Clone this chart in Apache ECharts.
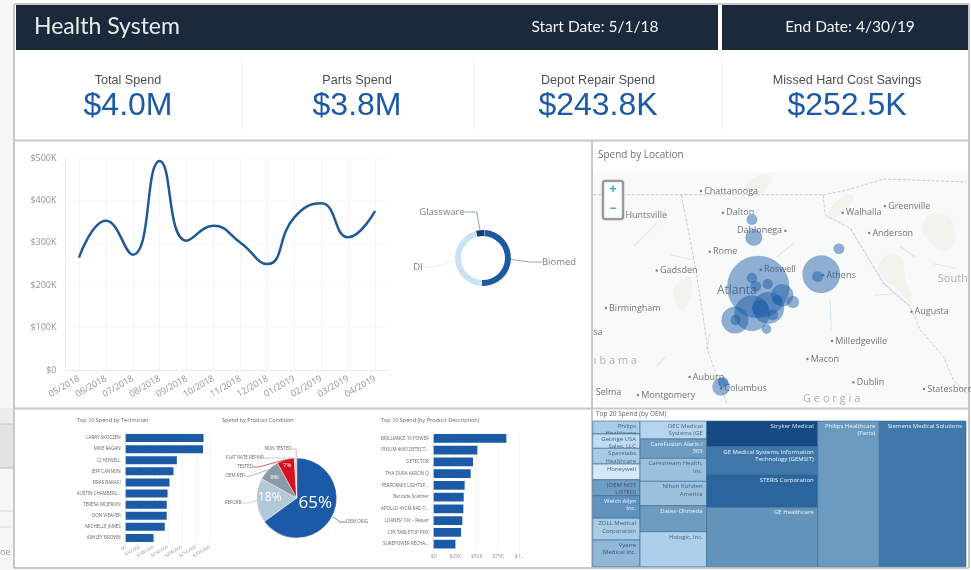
<!DOCTYPE html>
<html>
<head>
<meta charset="utf-8">
<style>
    html, body { margin: 0; padding: 0; background: #fff; }
    #chart { width: 971px; height: 570px; }
</style>
<script src="https://cdn.jsdelivr.net/npm/echarts@6/dist/echarts.min.js"></script>
</head>
<body>
<div id="chart"></div>
<script>
// 月度支出
const months = ["05/2018", "06/2018", "07/2018", "08/2018", "09/2018", "10/2018", "11/2018", "12/2018", "01/2019", "02/2019", "03/2019", "04/2019"];
const monthSpend = [265, 352, 272, 493, 305, 340, 300, 250, 360, 393, 313, 375];

// 环形图
const deptNames = ["Biomed", "DI", "Glassware"];
const deptShare = [50, 45, 5];

// 地图气泡 [lon, lat, spend]
const bubbles = [
    [-84.37, 33.75, 961], [-83.37, 33.92, 350], [-84.47, 34.65, 28], [-84.44, 34.41, 69],
    [-83.09, 34.26, 28], [-84.47, 33.87, 25], [-84.41, 33.76, 28], [-84.22, 33.79, 25],
    [-83.99, 33.64, 121], [-83.82, 33.55, 36], [-84.21, 33.47, 246], [-84.47, 33.40, 313],
    [-84.74, 33.31, 177], [-84.73, 33.31, 25], [-84.34, 33.47, 64], [-84.14, 33.38, 28],
    [-84.24, 33.19, 22], [-83.43, 33.89, 28], [-84.96, 32.42, 76], [-84.93, 32.48, 25],
    [-84.06, 33.58, 22]
];
// 城市 [lon, lat, name]
const cities = [
    [-85.28, 35.03, "Chattanooga"], [-84.93, 34.74, "Dalton"], [-83.03, 34.74, "Walhalla"],
    [-82.36, 34.83, "Greenville"], [-82.61, 34.47, "Anderson"], [-86.53, 34.70, "Huntsville"],
    [-85.14, 34.22, "Rome"], [-85.98, 33.97, "Gadsden"], [-84.33, 33.98, "Roswell"],
    [-83.34, 33.91, "Athens"], [-86.79, 33.47, "Birmingham"], [-81.94, 33.42, "Augusta"],
    [-83.20, 33.03, "Milledgeville"], [-83.59, 32.79, "Macon"], [-85.46, 32.55, "Auburn"],
    [-84.96, 32.40, "Columbus"], [-82.86, 32.48, "Dublin"], [-81.74, 32.39, "Statesboro"],
    [-86.28, 32.31, "Montgomery"]
];
const leftCities = [[-83.94, 34.50, "Dahlonega"]];
const plainPlaces = [[-86.95, 32.35, "Selma"], [-86.99, 33.15, "sa"]];
const bigPlaces = [[-84.71, 33.70, "Atlanta"]];
const regions = [[-86.98, 32.76, "ı b a m a"], [-83.66, 32.26, "G e o r g i a"], [-81.52, 33.86, "South"]];

// 州界、河流、绿地
const borders = [
    [[-86.99, 34.98], [-85.59, 34.98], [-83.34, 34.98]],
    [[-85.59, 34.98], [-85.35, 33.93], [-85.16, 32.87], [-85.06, 32.64], [-84.87, 32.20]],
    [[-83.34, 34.98], [-83.31, 34.71]],
    [[-83.34, 34.98], [-82.97, 35.04], [-82.38, 35.19], [-81.06, 35.15]],
    [[-83.31, 34.71], [-82.91, 34.53], [-82.70, 34.24], [-82.38, 33.80], [-81.96, 33.49], [-81.80, 33.18], [-81.43, 32.82], [-81.27, 32.51], [-81.06, 32.33]]
];
const rivers = [
    [[-86.35, 34.29], [-85.98, 34.60]], [[-85.77, 34.18], [-85.40, 34.11]],
    [[-84.08, 34.15], [-83.81, 34.33]], [[-82.12, 34.29], [-81.88, 34.15]],
    [[-82.54, 33.64], [-82.17, 33.66]], [[-83.23, 33.58], [-83.21, 33.18]],
    [[-81.59, 34.06], [-81.22, 34.00]], [[-85.98, 32.69], [-85.85, 32.82]],
    [[-85.14, 33.13], [-85.19, 32.91]], [[-82.91, 34.53], [-82.70, 34.24], [-82.38, 33.80], [-81.96, 33.49]]
];
const parks = [
    [[-81.75, 34.60], [-81.49, 34.73], [-81.25, 34.51], [-81.38, 34.24], [-81.62, 34.33]],
    [[-82.44, 34.07], [-82.17, 34.18], [-82.01, 33.80], [-81.94, 33.53], [-82.15, 33.71], [-82.39, 33.89]],
    [[-84.55, 35.13], [-84.18, 35.24], [-84.34, 34.98], [-84.50, 34.98]],
    [[-85.69, 33.75], [-85.45, 33.87], [-85.51, 33.49], [-85.64, 33.49]],
    [[-83.28, 34.71], [-82.97, 34.98], [-82.86, 34.91], [-83.18, 34.66]]
];

// 技术员 Top 10
const techNames = ["LARRY SKOCZEN", "MIKE RAGAN", "CJ HOWELL", "JEFF CANNON", "FIRAS BARAKI", "AUSTIN CHAMBERL...", "TERESA MCJERKIN", "DON WEAVER", "MICHELLE JAMES", "ASHLEY BROWN"];
const techSpend = [277000, 275000, 182000, 170000, 156000, 149000, 146000, 146000, 139000, 99000];

// 产品状况
const condNames = ["OEM ORIG", "REFURB", "OEM REP", "TESTED", "FLAT RATE REPAIR", "NON TESTED"];
const condShare = [65, 18, 9, 7, 0.6, 0.4];
const condColors = ["#1b5aa6", "#b4c8d8", "#8b9ba6", "#d5121e", "#9fc4b4", "#e08a90"];
const condLabelAt = [[357, 522], [233, 503], [235, 476], [245, 467], [245, 458], [278, 449]];
const condFont = [17, 12, 6, 6, 0, 0];
const condNudge = [[-2, -5], [-4, -2], [-6, -4], [-3, -11], [0, 0], [0, 0]];

// 产品描述 Top 10
const prodNames = ["BRILLIANCE 16 POWER", "PIXIUM 4600 DETECT...", "DETECTOR", "THA DURA AKRON Q", "PERFORMIX LIGHTSP...", "Barcode Scanner", "APOLLO 4YCM RAD T...", "LOANER 10lc - Repair", "CPX TABLETOP PFIX", "SUREPOWER RECHA..."];
const prodSpend = [84500, 50800, 45700, 43000, 36000, 34900, 34500, 33300, 31800, 25200];

// OEM 矩形树图，按列排列
const oemNames = [
    "Philips\nHealthcare", "Getinge USA\nSales, LLC\n(Domestic)", "Spacelabs\nHealthcare", "Honeywell", "(OEM NOT\nLISTED)", "Welch Allyn\nInc.", "ZOLL Medical\nCorporation", "Vyaire\nMedical Inc.",
    "OEC Medical\nSystems (GE\nHealthcare)", "CareFusion Alaris /\n303", "Carestream Health,\nInc.", "Nihon Kohden\nAmerica", "Datex-Ohmeda", "Hologic, Inc.",
    "Stryker Medical", "GE Medical Systems Information\nTechnology (GEMSIT)", "STERIS Corporation", "GE Healthcare",
    "Philips Healthcare\n(Parts)", "Siemens Medical Solutions"
];
const oemColumn = [0, 0, 0, 0, 0, 0, 0, 0, 1, 1, 1, 1, 1, 1, 2, 2, 2, 2, 3, 4];
const oemSpend = [13.8, 15.3, 16.7, 16.7, 17, 24.1, 23.1, 28.4, 27, 29, 34.5, 36.5, 39, 52.5, 64.1, 70.8, 80.8, 148.2, 202, 284];
const oemColors = ["#a8cde8", "#c0dcf0", "#aacbe6", "#d4eafa", "#6f9dc4", "#5f92bd", "#a8cbe6", "#8fb7d8", "#b5d5ef", "#6d9cc3", "#9cc1df", "#9cc1df", "#6d9cc3", "#acd0ec", "#164a82", "#3f78a8", "#2a669d", "#6293bb", "#6a9ac0", "#3f78a9"];
const oemText = ["#4c5f70", "#4c5f70", "#4c5f70", "#4c5f70", "#3f5266", "#f0f5f9", "#4c5f70", "#3f5266", "#4c5f70", "#eef4f9", "#4c5f70", "#4c5f70", "#eef4f9", "#4c5f70", "#dfe8f1", "#eef4f9", "#eef4f9", "#eef4f9", "#eef4f9", "#eef4f9"];

const sans = '"Open Sans", sans-serif';
const grey = "#8f949a";
const blue = "#1b5aa6";

// 把 OEM 数据换算成每个矩形的列、行范围
const columnTotal = [];
oemSpend.forEach((v, i) => { columnTotal[oemColumn[i]] = (columnTotal[oemColumn[i]] || 0) + v; });
const oemTotal = columnTotal.reduce((a, b) => a + b, 0);
const oemRects = [];
let colStart = 0;
columnTotal.forEach((sum, c) => {
    let used = 0;
    oemSpend.forEach((v, i) => {
        if (oemColumn[i] === c) {
            oemRects.push({ value: [colStart, colStart + sum, used / sum, (used + v) / sum], idx: i });
            used += v;
        }
    });
    colStart += sum;
});

function hiddenAxis(extra) {
    return Object.assign({ type: "value", show: false, splitLine: { show: false } }, extra);
}

function pairText(x, y, text, size, color, align, family, weight) {
    return {
        type: "text", z: 5, x: x, y: y,
        style: { text: text, fontSize: size, fill: color, align: align || "center", verticalAlign: "middle", fontFamily: family || sans, fontWeight: weight || "normal" }
    };
}

function box(x, y, w, h, fill) {
    return { type: "rect", z: -1, shape: { x: x, y: y, width: w, height: h }, style: { fill: fill } };
}

const line = (x1, y1, x2, y2, color, width) => ({
    type: "line", z: 1, shape: { x1: x1, y1: y1, x2: x2, y2: y2 }, style: { stroke: color, lineWidth: width }
});

const kpiFont = '"Liberation Sans", Arial, sans-serif';
const frame = "#c6c8c9";

let option = {
    animation: false,
    backgroundColor: "#fff",
    graphic: [
        // 截图左侧露出的背景
        box(0, 0, 13, 570, "#f6f6f6"),
        box(0, 408, 13, 16, "#ececec"),
        box(0, 424, 13, 44, "#e3e3e3"),
        line(0, 424, 13, 424, "#c8c8c8", 1),
        line(0, 468, 13, 468, "#bdbdbd", 1),
        line(0, 511, 13, 511, "#d4d4d4", 1),
        line(0, 527, 13, 527, "#dcdcdc", 1),
        pairText(0, 552, "oe", 9, "#a5a5a5", "left"),
        box(593, 172, 375, 233, "#f8f9f9"),
        box(16, 5, 702, 45, "#1b2a3a"),
        box(722, 5, 246, 45, "#1b2a3a"),
        line(14, 4, 969, 4, frame, 2),
        line(14, 4, 14, 568, frame, 2),
        line(969, 4, 969, 568, frame, 2),
        line(14, 568, 969, 568, frame, 2),
        line(14, 140.5, 969, 140.5, frame, 2),
        line(14, 408.5, 969, 408.5, frame, 2),
        line(592, 141, 592, 568, frame, 2),
        line(242, 58, 242, 130, "#f0f0f0", 1),
        line(474, 58, 474, 130, "#f0f0f0", 1),
        line(722, 58, 722, 130, "#f0f0f0", 1),
        pairText(34, 27, "Health System", 23, "#e8ecef", "left", "Lato"),
        pairText(595, 27, "Start Date: 5/1/18", 15.5, "#f2f4f6", "center", "Lato"),
        pairText(850, 27, "End Date: 4/30/19", 15.5, "#f2f4f6", "center", "Lato"),
        pairText(128, 81, "Total Spend", 12.6, "#4a4f55", "center", kpiFont),
        pairText(357, 81, "Parts Spend", 12.6, "#4a4f55", "center", kpiFont),
        pairText(598, 81, "Depot Repair Spend", 12.6, "#4a4f55", "center", kpiFont),
        pairText(847, 81, "Missed Hard Cost Savings", 12.6, "#4a4f55", "center", kpiFont),
        pairText(128, 106, "$4.0M", 32, blue, "center", kpiFont),
        pairText(357, 106, "$3.8M", 32, blue, "center", kpiFont),
        pairText(598, 106, "$243.8K", 32, blue, "center", kpiFont),
        pairText(847, 106, "$252.5K", 32, blue, "center", kpiFont),
        pairText(598, 155, "Spend by Location", 10, "#6c7278", "left"),
        pairText(77, 420, "Top 10 Spend by Technician", 5.5, "#666", "left"),
        pairText(222, 420, "Spend by Product Condition", 5.5, "#666", "left"),
        pairText(381, 420, "Top 10 Spend (by Product Description)", 5.5, "#666", "left"),
        pairText(596, 414, "Top 20 Spend (by OEM)", 6.5, "#666", "left"),
        // 地图缩放按钮
        { type: "rect", z: 6, shape: { x: 603, y: 181, width: 20, height: 38, r: 2 }, style: { fill: "#fff", stroke: "#8d8f91", lineWidth: 1.5, shadowBlur: 2, shadowColor: "rgba(0,0,0,0.4)" } },
        line(604, 200, 622, 200, "#ddd", 1),
        Object.assign(pairText(613, 190, "+", 12, "#2ca0d8", "center", kpiFont, "bold"), { z: 7 }),
        Object.assign(pairText(613, 209, "−", 12, "#2ca0d8", "center", kpiFont, "bold"), { z: 7 })
    ],
    grid: [
        { left: 65.5, top: 158, width: 323, height: 212 },
        { left: 593, top: 172, width: 375, height: 233 },
        { left: 125.7, top: 432.5, width: 84.3, height: 111 },
        { left: 433.7, top: 432.5, width: 86, height: 117.5 },
        { left: 592.7, top: 421, width: 373.3, height: 145.7 }
    ],
    xAxis: [
        {
            gridIndex: 0, type: "category", data: months,
            axisLine: { lineStyle: { color: "#e6e8ea" } },
            axisTick: { show: false },
            splitLine: { show: true, interval: 0, alignWithLabel: true, lineStyle: { color: "#f1f2f3" } },
            axisLabel: { rotate: 30, interval: 0, color: grey, fontSize: 9, fontFamily: sans, margin: 8 }
        },
        hiddenAxis({ gridIndex: 1, min: -86.993, max: -81.041 }),
        {
            gridIndex: 2, type: "value", min: 0, max: 300000, interval: 50000,
            axisLine: { show: false }, axisTick: { show: false },
            splitLine: { lineStyle: { color: "#f1f2f3" } },
            axisLabel: { rotate: 30, color: grey, fontSize: 4.5, fontFamily: sans, margin: 3, formatter: v => "$" + v.toLocaleString("en-US") }
        },
        {
            gridIndex: 3, type: "value", min: 0, max: 100000, interval: 25000,
            axisLine: { show: false }, axisTick: { show: false },
            splitLine: { lineStyle: { color: "#f1f2f3" } },
            axisLabel: { color: grey, fontSize: 5, fontFamily: sans, margin: 4, formatter: v => v === 100000 ? "$1..." : "$" + v / 1000 + (v ? "K" : "") }
        },
        hiddenAxis({ gridIndex: 4, min: 0, max: oemTotal })
    ],
    yAxis: [
        {
            gridIndex: 0, type: "value", min: 0, max: 500, interval: 100,
            axisLine: { show: true, lineStyle: { color: "#eceef0" } }, axisTick: { show: false },
            splitLine: { lineStyle: { color: "#f3f4f5", type: "dotted" } },
            axisLabel: { color: grey, fontSize: 9, fontFamily: sans, margin: 9, formatter: v => "$" + v + (v ? "K" : "") }
        },
        hiddenAxis({ gridIndex: 1, min: 32.177, max: 35.283 }),
        {
            gridIndex: 2, type: "category", data: techNames, inverse: true,
            axisLine: { lineStyle: { color: "#e6e8ea" } }, axisTick: { show: false },
            axisLabel: { interval: 0, color: "#666", fontSize: 4.5, fontFamily: sans, margin: 5 }
        },
        {
            gridIndex: 3, type: "category", data: prodNames, inverse: true,
            axisLine: { lineStyle: { color: "#e6e8ea" } }, axisTick: { show: false },
            axisLabel: { interval: 0, color: "#666", fontSize: 4.5, fontFamily: sans, margin: 5 }
        },
        hiddenAxis({ gridIndex: 4, min: 0, max: 1, inverse: true })
    ],
    series: [
        {
            type: "line", name: "Spend", xAxisIndex: 0, yAxisIndex: 0, data: monthSpend,
            smooth: 0.5, showSymbol: false, lineStyle: { color: "#1f5a96", width: 2.5 }
        },
        {
            type: "pie", center: [483, 258], radius: [22, 28], startAngle: 87, padAngle: 1,
            data: deptNames.map((n, i) => ({
                name: n, value: deptShare[i],
                itemStyle: { color: ["#1b5aa0", "#c9e3f5", "#123f78"][i] },
                labelLine: { lineStyle: { color: ["#8aa5bd", "#e8edf1", "#8aa5bd"][i] } }
            })),
            label: { color: "#7b8086", fontSize: 9.5, fontFamily: sans },
            labelLine: { length: 10, length2: 12, lineStyle: { width: 1 } },
            labelLayout: p => ({ x: [559, 418, 442][p.dataIndex], y: [262, 267, 212][p.dataIndex], align: "center", verticalAlign: "middle" })
        },
        // 绿地
        {
            type: "custom", xAxisIndex: 1, yAxisIndex: 1, silent: true, clip: true, z: 1,
            data: parks.map((p, i) => [i]),
            renderItem: (params, api) => ({
                type: "polygon",
                shape: { points: parks[api.value(0)].map(pt => api.coord(pt)), smooth: 0.6 },
                style: { fill: "#f0f4ec" }
            })
        },
        ...rivers.map(r => ({
            type: "line", xAxisIndex: 1, yAxisIndex: 1, data: r, silent: true, showSymbol: false, z: 1,
            lineStyle: { color: "#dbe9f1", width: 1.2 }
        })),
        ...borders.map(b => ({
            type: "line", xAxisIndex: 1, yAxisIndex: 1, data: b, silent: true, showSymbol: false, z: 1,
            lineStyle: { color: "#bfc3c6", width: 0.8, type: "dashed" }
        })),
        {
            type: "scatter", xAxisIndex: 1, yAxisIndex: 1, data: cities, silent: true, symbolSize: 2.5, z: 2,
            itemStyle: { color: "#666" },
            label: { show: true, position: "right", distance: 2, formatter: p => p.value[2], color: "#4f5459", fontSize: 9, fontFamily: sans },
            labelLayout: { hideOverlap: false }
        },
        {
            type: "scatter", xAxisIndex: 1, yAxisIndex: 1, data: leftCities, silent: true, symbolSize: 2.5, z: 2,
            itemStyle: { color: "#666" },
            label: { show: true, position: "left", distance: 2, formatter: p => p.value[2], color: "#4f5459", fontSize: 9, fontFamily: sans }
        },
        {
            type: "scatter", xAxisIndex: 1, yAxisIndex: 1, data: plainPlaces, silent: true, symbolSize: 0, z: 2,
            label: { show: true, position: "right", distance: 0, formatter: p => p.value[2], color: "#4f5459", fontSize: 9, fontFamily: sans }
        },
        {
            type: "scatter", xAxisIndex: 1, yAxisIndex: 1, data: bigPlaces, silent: true, symbolSize: 0, z: 2,
            label: { show: true, position: "inside", formatter: p => p.value[2], color: "#55595e", fontSize: 12, fontFamily: sans }
        },
        {
            type: "scatter", xAxisIndex: 1, yAxisIndex: 1, data: regions, silent: true, symbolSize: 0, z: 2,
            label: { show: true, position: "right", distance: 0, formatter: p => p.value[2], color: "#9ba0a5", fontSize: 11, fontFamily: sans }
        },
        {
            type: "scatter", name: "Spend by Location", xAxisIndex: 1, yAxisIndex: 1, data: bubbles, z: 3,
            symbolSize: d => Math.sqrt(d[2]) * 2,
            itemStyle: { color: "rgba(28,92,168,0.6)", borderColor: "rgba(28,92,168,0.3)", borderWidth: 0.5 }
        },
        {
            type: "bar", xAxisIndex: 2, yAxisIndex: 2, data: techSpend, barWidth: 8,
            itemStyle: { color: blue }
        },
        {
            type: "bar", xAxisIndex: 3, yAxisIndex: 3, data: prodSpend, barWidth: 8.7,
            itemStyle: { color: blue }
        },
        {
            type: "pie", center: [296.7, 498], radius: [0, 40], startAngle: 90,
            data: condNames.map((n, i) => ({ name: n, value: condShare[i], itemStyle: { color: condColors[i], borderColor: "#fff", borderWidth: 0.4 } })),
            label: { color: "#666", fontSize: 4.5, fontFamily: sans },
            labelLine: { length: 6, length2: 6, lineStyle: { width: 0.7 } },
            labelLayout: p => ({ x: condLabelAt[p.dataIndex][0], y: condLabelAt[p.dataIndex][1], align: "center", verticalAlign: "middle" })
        },
        // 饼图内部的百分比
        {
            type: "pie", center: [296.7, 498], radius: [0, 40], startAngle: 90, silent: true,
            itemStyle: { color: "transparent" },
            data: condNames.map((n, i) => ({
                name: n, value: condShare[i],
                label: { show: condFont[i] > 0, position: "inside", formatter: Math.round(condShare[i]) + "%", color: "#fff", fontSize: condFont[i] || 6, fontFamily: sans }
            })),
            labelLine: { show: false },
            labelLayout: p => ({ dx: condNudge[p.dataIndex][0], dy: condNudge[p.dataIndex][1] })
        },
        {
            type: "custom", name: "Top 20 Spend (by OEM)", xAxisIndex: 4, yAxisIndex: 4, z: 2,
            data: oemRects.map(r => ({ value: r.value.concat(r.idx) })),
            encode: { x: [0, 1], y: [2, 3] },
            renderItem: (params, api) => {
                const a = api.coord([api.value(0), api.value(2)]);
                const b = api.coord([api.value(1), api.value(3)]);
                const i = api.value(4);
                return {
                    type: "group",
                    children: [
                        { type: "rect", shape: { x: a[0], y: a[1], width: b[0] - a[0], height: b[1] - a[1] }, style: { fill: oemColors[i], stroke: "#34668f", lineWidth: 0.6 } },
                        { type: "text", style: { text: oemNames[i], x: b[0] - 4, y: a[1] + 1.5, align: "right", verticalAlign: "top", fontSize: 6, lineHeight: 7.5, fontFamily: sans, fill: oemText[i] } }
                    ]
                };
            }
        }
    ]
};

let myChart = echarts.init(document.getElementById("chart"), null, { renderer: "canvas" });
myChart.setOption(option);
</script>
</body>
</html>
